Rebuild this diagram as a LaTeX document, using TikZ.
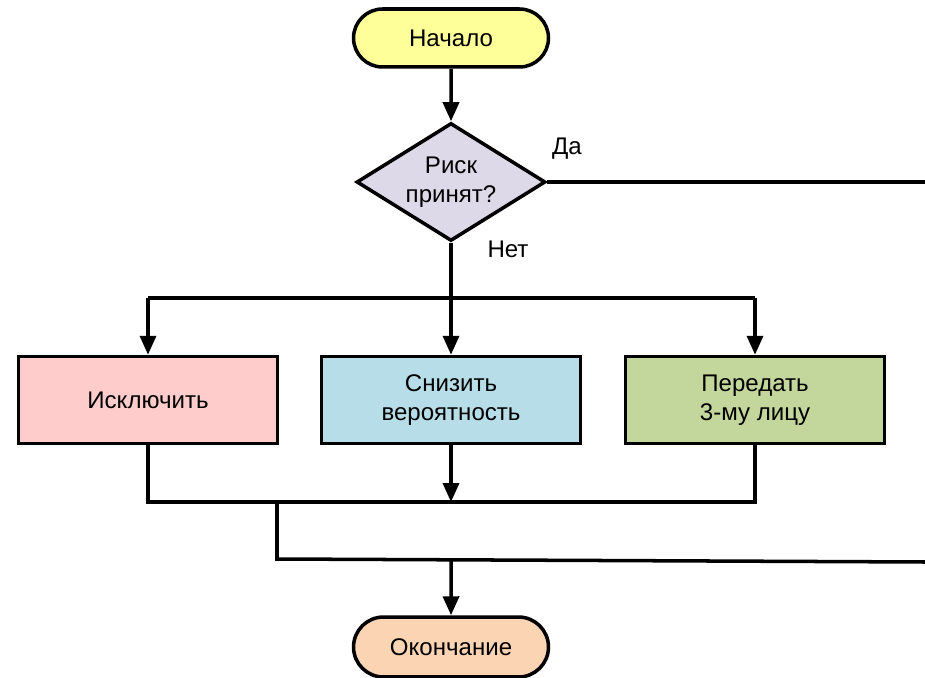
\documentclass[tikz,border=0pt]{standalone}
\usepackage{fontspec}
\setmainfont{Liberation Sans}
\usetikzlibrary{shapes.geometric}
\usetikzlibrary{shapes.misc}
\usetikzlibrary{arrows.meta}

\definecolor{startfill}{HTML}{FFFF99}
\definecolor{riskfill}{HTML}{DDD9E8}
\definecolor{exclfill}{HTML}{FFCCCC}
\definecolor{lowerfill}{HTML}{B7DEE8}
\definecolor{passfill}{HTML}{C3D69B}
\definecolor{finishfill}{HTML}{FBD4B4}

\begin{document}
\begin{tikzpicture}
[x=0.02cm,y=-0.02cm,line width=2pt,%
  every node/.style={font=\fontsize{13.7}{16.3}\selectfont,align=center},%
  term/.style={shape=rounded rectangle,draw,minimum width=3.9cm,minimum height=1.16cm,inner sep=0pt},%
  decide/.style={shape=diamond,draw,fill=riskfill,aspect=1.6,minimum width=3.78cm,minimum height=2.36cm,inner sep=0pt},%
  act/.style={shape=rectangle,draw,minimum width=5.18cm,minimum height=1.74cm,inner sep=0pt},%
  arr/.style={-{Triangle[length=0.38cm,width=0.32cm]}}]
\useasboundingbox (0,0) rectangle (925,678);
% shapes
\node[term,fill=startfill] (start) at (451,38) {Начало};
\node[decide] (risk) at (451,182) {Риск\\принят?};
\node[act,fill=exclfill] (excl) at (148,400) {Исключить};
\node[act,fill=lowerfill] (lower) at (451,400) {Снизить\\вероятность};
\node[act,fill=passfill] (pass) at (755,400) {Передать\\3-му лицу};
\node[term,fill=finishfill,minimum height=1.2cm] (finish) at (451,647) {Окончание};
% labels
\node (yes) at (567,149) {Да};
\node (no) at (508,249) {Нет};
% helper points
\coordinate (splitL) at (148,298);
\coordinate (splitR) at (755,298);
\coordinate (joinL) at (148,502);
\coordinate (joinR) at (755,502);
\coordinate (yesEnd) at (925,182);
\coordinate (bend) at (277,502);
\coordinate (bendLow) at (277,559);
\coordinate (back) at (925,562);
\coordinate (merge) at (451,560);
% connectors
\draw[arr] (start) -- (risk);
\draw (risk.east) -- (yesEnd);
\draw[arr] (risk) -- (lower);
\draw (splitL) -- (splitR);
\draw[arr] (splitL) -- (excl);
\draw[arr] (splitR) -- (pass);
\draw (excl) -- (joinL) -- (joinR) -- (pass);
\draw[arr] (lower) -- (lower |- joinL);
\draw (bend) -- (bendLow) -- (back);
\draw[arr] (merge) -- (finish);
\end{tikzpicture}
\end{document}
